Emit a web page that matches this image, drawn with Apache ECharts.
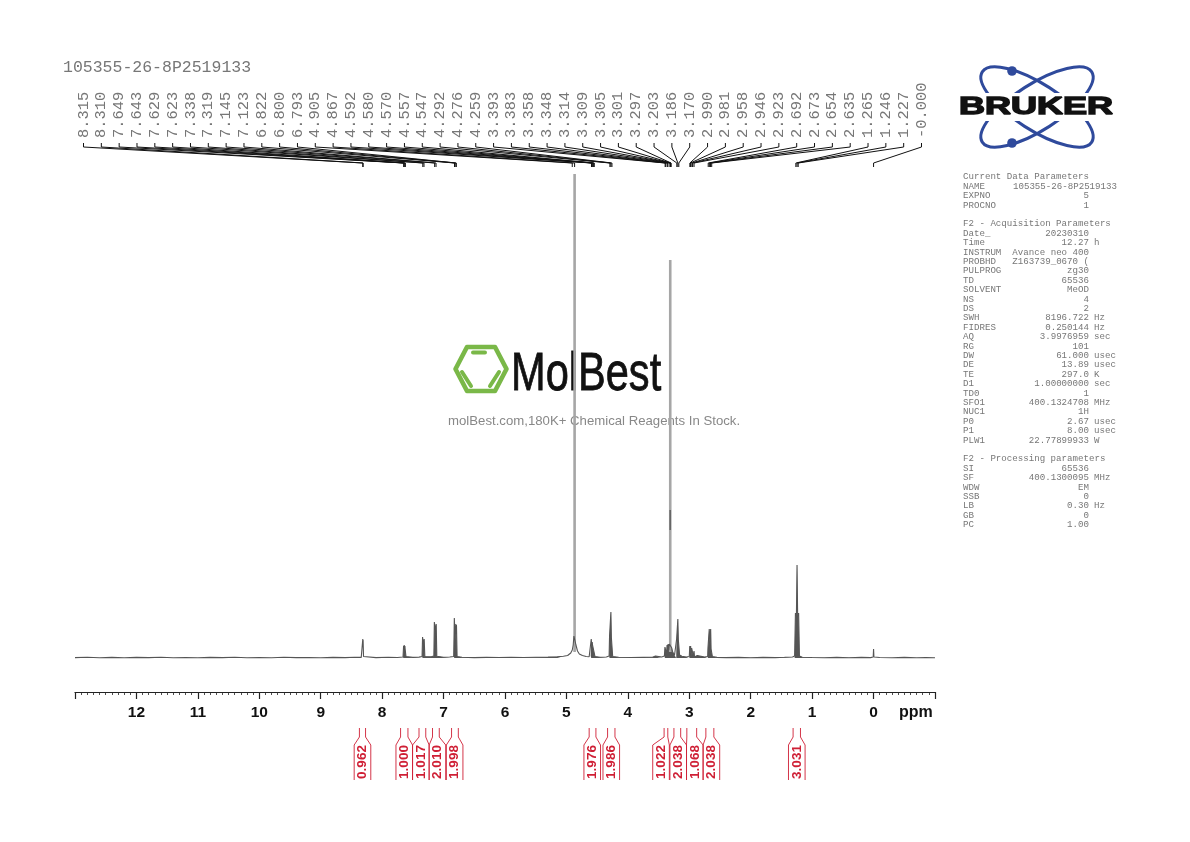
<!DOCTYPE html>
<html>
<head>
<meta charset="utf-8">
<title>105355-26-8P2519133</title>
<style>
html, body { margin: 0; padding: 0; background: #fff; }
#main { width: 1190px; height: 842px; }
</style>
<script src="https://cdn.jsdelivr.net/npm/echarts@6/dist/echarts.min.js"></script>
</head>
<body>
<div id="main"></div>
<script>
var sampleName = '105355-26-8P2519133';

// spectrum, [ppm, height]
var baselineLeft = [[13,0.4],[12.8,0.7],[12.6,0.3],[12.4,0.6],[12.2,0.2],[12,0.6],[11.8,0.4],[11.6,0.7],[11.4,0.3],[11.2,0.5],[11,0.2],[10.8,0.6],[10.6,0.4],[10.4,0.7],[10.2,0.3],[10,0.5],[9.8,0.3],[9.6,0.7],[9.4,0.4],[9.2,0.5],[9,0.3],[8.8,0.6],[8.6,0.4],[8.45,0.7]];
var amidePeak = [[8.34,0.6],[8.322,1.5],[8.315,19],[8.312,12],[8.31,18],[8.303,1.5],[8.28,0.7],[8.1,0.4],[7.9,0.7],[7.75,0.5]];
var aromaticA = [[7.66,1],[7.655,2],[7.651,12],[7.646,9],[7.641,13],[7.636,9],[7.629,12],[7.626,9],[7.619,11],[7.612,1.5],[7.5,0.6],[7.4,0.9]];
var aromaticB = [[7.35,1.5],[7.342,21],[7.33,14],[7.316,19],[7.305,1.5],[7.2,1.2],[7.158,2],[7.15,36],[7.134,28],[7.12,34],[7.11,1.8],[7,0.8],[6.9,1]];
var aromaticC = [[6.835,1.5],[6.825,40],[6.811,18],[6.8,34],[6.797,24],[6.79,33],[6.78,1.5],[6.7,0.7],[6.5,0.4],[6.3,0.6],[6.1,0.5],[5.9,0.6],[5.7,0.5],[5.5,0.8],[5.3,0.9],[5.15,1.2],[5.05,1.8]];
var waterFoot = [[4.98,2.5],[4.93,5],[4.905,8],[4.89,13],[4.878,22],[4.856,22],[4.845,13],[4.82,7],[4.79,4],[4.74,2.5],[4.68,1.5],[4.63,1.2]];
var methineA = [[4.605,2],[4.596,19],[4.587,12],[4.58,16],[4.575,13],[4.57,15],[4.564,13],[4.557,15],[4.552,13],[4.543,14],[4.535,1.5],[4.45,0.8],[4.35,1]];
var methineB = [[4.305,2],[4.298,22],[4.285,20],[4.276,46],[4.268,20],[4.254,22],[4.247,1.5],[4.15,0.7],[3.95,0.5],[3.75,0.6],[3.6,0.7],[3.55,2],[3.52,0.8],[3.45,1]];
var methanolRegion = [[3.405,2],[3.396,11],[3.388,9],[3.38,12],[3.37,4],[3.362,13],[3.353,10],[3.345,14],[3.335,8],[3.325,14],[3.295,14],[3.285,10],[3.27,6],[3.24,3],[3.215,2]];
var methyleneA = [[3.212,4],[3.206,19],[3.195,18],[3.186,39],[3.178,18],[3.166,19],[3.158,3],[3.12,1.8],[3.05,1],[3,1.5]];
var methyleneB = [[2.998,2],[2.992,12],[2.986,9],[2.978,12],[2.97,2],[2.961,10],[2.952,8],[2.943,10],[2.935,2],[2.923,7],[2.915,1],[2.87,2.5],[2.85,0.8],[2.75,0.9],[2.7,1.5]];
var methyleneC = [[2.702,2],[2.696,10],[2.683,9],[2.675,29],[2.664,16],[2.652,29],[2.645,9],[2.631,10],[2.624,1.5],[2.55,0.6],[2.4,0.4],[2.2,0.6],[2,0.3],[1.8,0.6],[1.6,0.4],[1.45,0.7],[1.32,1]];
var methylPeak = [[1.285,2],[1.272,45],[1.256,42],[1.246,93],[1.236,42],[1.22,45],[1.207,2],[1.16,0.8],[1,0.5],[0.8,0.3],[0.6,0.6],[0.4,0.3],[0.2,0.6],[0.05,0.4]];
var baselineRight = [[0.006,1],[0,9],[-0.006,1],[-0.1,0.5],[-0.3,0.2],[-0.5,0.6],[-0.7,0.3],[-0.85,0.5],[-1,0.3]];

// the two tall solvent lines, wide and grey in the picture
var solventLines = [[4.867,6],[4.867,484],null,[3.31,6],[3.31,398]];
var solventCore = [[3.31,128],[3.31,148]];

var peakLabels = ['8.315','8.310','7.649','7.643','7.629','7.623','7.338','7.319','7.145','7.123','6.822','6.800','6.793','4.905','4.867','4.592','4.580','4.570','4.557','4.547','4.292','4.276','4.259','3.393','3.383','3.358','3.348','3.314','3.309','3.305','3.301','3.297','3.203','3.186','3.170','2.990','2.981','2.958','2.946','2.923','2.692','2.673','2.654','2.635','1.265','1.246','1.227','-0.000'];

// integrals: limits in ppm, where the label sits in ppm, value
var integralFrom = [8.37,7.70,7.40,7.18,6.87,4.63,4.33,3.41,3.25,3.04,2.73,1.31];
var integralTo = [8.27,7.58,7.29,7.07,6.76,4.52,4.21,3.35,3.14,2.88,2.60,1.19];
var integralAt = [8.32,7.64,7.37,7.10,6.82,4.58,4.27,3.46,3.18,2.91,2.64,1.25];
var integralValues = ['0.962','1.000','1.017','2.010','1.998','1.976','1.986','1.022','2.038','1.068','2.038','3.031'];

// parameter block, '' is an empty line
var paramNames = ['Current Data Parameters','NAME','EXPNO','PROCNO','','F2 - Acquisition Parameters','Date_','Time','INSTRUM','PROBHD','PULPROG','TD','SOLVENT','NS','DS','SWH','FIDRES','AQ','RG','DW','DE','TE','D1','TD0','SFO1','NUC1','P0','P1','PLW1','','F2 - Processing parameters','SI','SF','WDW','SSB','LB','GB','PC'];
var paramValues = ['',sampleName,'5','1','','','20230310','12.27','Avance neo 400','Z163739_0670 (','zg30','65536','MeOD','4','2','8196.722','0.250144','3.9976959','101','61.000','13.89','297.0','1.00000000','1','400.1324708','1H','2.67','8.00','22.77899933','','','65536','400.1300095','EM','0','0.30','0','1.00'];
var paramUnits = ['','','','','','','','h','','','','','','','','Hz','Hz','sec','','usec','usec','K','sec','','MHz','','usec','usec','W','','','','MHz','','','Hz','',''];

var MONO = '"Liberation Mono", monospace';
var SANS = '"Liberation Sans", Arial, sans-serif';
var RED = '#cf1f35';
var GREEN = '#7ab848';
var BLUE = '#2f4a9c';

var spectrum = [].concat(baselineLeft, amidePeak, aromaticA, aromaticB, aromaticC, waterFoot, methineA, methineB, methanolRegion, methyleneA, methyleneB, methyleneC, methylPeak, baselineRight);
// multiplets close enough to merge into dark blocks at this scale
var multipletBlocks = [].concat(aromaticA, [null], aromaticB, [null], aromaticC, [null], methineA, [null], methineB, [null], methanolRegion, [null], methyleneA, [null], methyleneB, [null], methyleneC, [null], methylPeak);

function renderPeakLabel(params, api) {
	var i = params.dataIndex;
	var xTop = 83.5 + i * 17.83;
	var xPeak = api.coord([api.value(0), 0])[0];
	return {
		type: 'group',
		children: [
			{ type: 'polyline', shape: { points: [[xTop,143],[xTop,147],[xPeak,163],[xPeak,167]] },
				style: { stroke: '#111', lineWidth: 1, fill: null } },
			{ type: 'text', x: xTop, y: 138, rotation: Math.PI / 2,
				style: { text: peakLabels[i], font: '15.4px ' + MONO, fill: '#777', textAlign: 'left', textVerticalAlign: 'middle' } }
		]
	};
}

function renderIntegral(params, api) {
	var i = params.dataIndex;
	var left = api.coord([integralFrom[i], 0])[0];
	var right = api.coord([integralTo[i], 0])[0];
	var mid = api.coord([integralAt[i], 0])[0];
	var lineStyle = { stroke: RED, lineWidth: 0.9, fill: null };
	return {
		type: 'group',
		children: [
			{ type: 'polyline', shape: { points: [[left,728],[left,737],[mid - 8.3,745],[mid - 8.3,780]] }, style: lineStyle },
			{ type: 'polyline', shape: { points: [[right,728],[right,737],[mid + 8.3,745],[mid + 8.3,780]] }, style: lineStyle },
			{ type: 'text', x: mid, y: 762, rotation: Math.PI / 2,
				style: { text: integralValues[i], font: 'bold 13.5px ' + SANS, fill: RED, textAlign: 'center', textVerticalAlign: 'middle' } }
		]
	};
}

function paramGraphics() {
	var out = [];
	paramNames.forEach(function (name, i) {
		var y = 177 + i * 9.4;
		var font = '9.15px ' + MONO;
		var bits = [[name, 963, 'left'], [paramValues[i], i === 1 ? 1117 : 1089, 'right'], [paramUnits[i], 1094, 'left']];
		bits.forEach(function (b) {
			if (b[0] === '') return;
			out.push({ type: 'text', x: b[1], y: y, style: { text: b[0], font: font, fill: '#777', textAlign: b[2], textVerticalAlign: 'middle' } });
		});
	});
	return out;
}

function logoGraphics() {
	return [
		{ type: 'ellipse', x: 1037, y: 107, rotation: -0.57, shape: { cx: 0, cy: 0, rx: 65, ry: 23 }, style: { stroke: BLUE, lineWidth: 3, fill: null } },
		{ type: 'ellipse', x: 1037, y: 107, rotation: 0.57, shape: { cx: 0, cy: 0, rx: 65, ry: 23 }, style: { stroke: BLUE, lineWidth: 3, fill: null } },
		{ type: 'circle', shape: { cx: 1012, cy: 71, r: 4.8 }, style: { fill: BLUE } },
		{ type: 'circle', shape: { cx: 1012, cy: 143, r: 4.8 }, style: { fill: BLUE } },
		{ type: 'rect', shape: { x: 955, y: 93, width: 164, height: 28 }, style: { fill: '#fff' } },
		{ type: 'text', x: 959, y: 107, scaleX: 1.5, style: { text: 'BRUKER', font: '900 24px ' + SANS, fill: '#111', stroke: '#111', lineWidth: 1.4, textAlign: 'left', textVerticalAlign: 'middle' } }
	];
}

function watermarkGraphics() {
	var bar = { stroke: GREEN, lineWidth: 4, lineCap: 'round', fill: null };
	return [
		{ type: 'polygon', shape: { points: [[467,347],[495,347],[506.5,369],[495,391],[467,391],[455.5,369]] }, style: { stroke: GREEN, lineWidth: 4.6, lineJoin: 'round', fill: null } },
		{ type: 'line', shape: { x1: 473, y1: 352.5, x2: 485, y2: 352.5 }, style: bar },
		{ type: 'line', shape: { x1: 462, y1: 372, x2: 471, y2: 386 }, style: bar },
		{ type: 'line', shape: { x1: 499, y1: 372, x2: 490, y2: 386 }, style: bar },
		{ type: 'text', x: 511, y: 375, scaleX: 0.77, style: { text: 'MolBest', font: '54px ' + SANS, fill: '#111', stroke: '#111', lineWidth: 0.8, textAlign: 'left', textVerticalAlign: 'middle' } },
		{ type: 'text', x: 448, y: 421, style: { text: 'molBest.com,180K+ Chemical Reagents In Stock.', font: '13.2px ' + SANS, fill: '#888', textAlign: 'left', textVerticalAlign: 'middle' } }
	];
}

var chart = echarts.init(document.getElementById('main'));

var option = {
	backgroundColor: '#fff',
	animation: false,
	grid: { left: 75, right: 255, top: 174, bottom: 150 },
	xAxis: {
		type: 'value',
		inverse: true,
		min: -1,
		max: 13,
		interval: 1,
		axisLine: { onZero: false, lineStyle: { color: '#222', width: 1.2 } },
		axisTick: { show: true, length: 7, lineStyle: { color: '#222', width: 1.2 } },
		minorTick: { show: true, splitNumber: 10, length: 3, lineStyle: { color: '#222', width: 0.8 } },
		splitLine: { show: false },
		axisLabel: {
			margin: 13,
			color: '#111',
			fontFamily: SANS,
			fontWeight: 'bold',
			fontSize: 15.5,
			formatter: function (v) { return (v === -1 || v === 13) ? '' : String(v); }
		}
	},
	yAxis: { type: 'value', min: -34, max: 484, show: false },
	graphic: [].concat(
		[{ type: 'text', x: 63, y: 68, style: { text: sampleName, font: '16.5px ' + MONO, fill: '#777', textAlign: 'left', textVerticalAlign: 'middle' } }],
		[{ type: 'text', x: 899, y: 712.5, style: { text: 'ppm', font: 'bold 16px ' + SANS, fill: '#111', textAlign: 'left', textVerticalAlign: 'middle' } }],
		logoGraphics(),
		paramGraphics(),
		watermarkGraphics()
	),
	series: [
		{
			name: 'multiplet blocks',
			type: 'line',
			data: multipletBlocks,
			showSymbol: false,
			silent: true,
			lineStyle: { width: 0 },
			areaStyle: { color: '#555', opacity: 1, origin: 'auto' }
		},
		{
			name: 'solvent',
			type: 'line',
			data: solventLines,
			showSymbol: false,
			silent: true,
			clip: false,
			lineStyle: { color: '#a6a6a6', width: 2.6, cap: 'butt' }
		},
		{
			name: 'spectrum',
			type: 'line',
			data: spectrum,
			showSymbol: false,
			silent: true,
			clip: false,
			sampling: null,
			lineStyle: { color: '#555', width: 1.1, join: 'bevel' }
		},
		{
			name: 'solvent core',
			type: 'line',
			data: solventCore,
			showSymbol: false,
			silent: true,
			lineStyle: { color: '#666', width: 1.6 }
		},
		{
			name: 'peak labels',
			type: 'custom',
			data: peakLabels.map(function (s) { return [parseFloat(s)]; }),
			encode: { x: 0 },
			renderItem: renderPeakLabel,
			clip: false,
			silent: true
		},
		{
			name: 'integrals',
			type: 'custom',
			data: integralAt.map(function (p) { return [p]; }),
			encode: { x: 0 },
			renderItem: renderIntegral,
			clip: false,
			silent: true
		}
	]
};

chart.setOption(option);
</script>
</body>
</html>
